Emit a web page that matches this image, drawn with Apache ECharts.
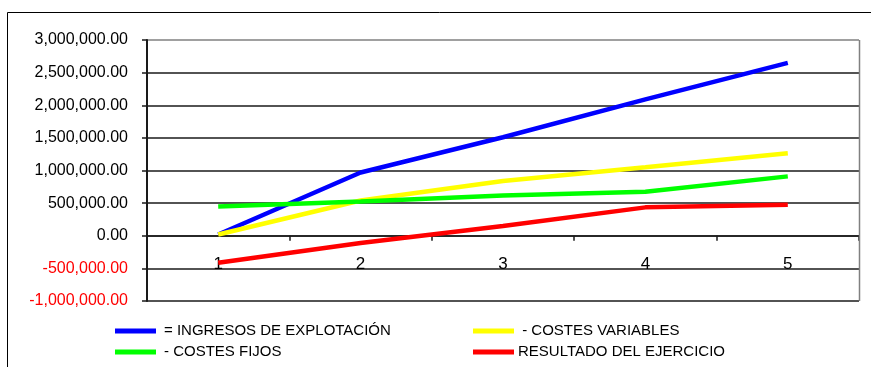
<!DOCTYPE html>
<html>
<head>
<meta charset="utf-8">
<style>
  html, body { margin: 0; padding: 0; background: #fff; }
  #chart { width: 871px; height: 367px; }
</style>
<script src="https://cdn.jsdelivr.net/npm/echarts@6/dist/echarts.min.js"></script>
</head>
<body>
<div id="chart"></div>
<script>
// Años del plan
var categories = ['1', '2', '3', '4', '5'];

// Nombres de las series
var seriesNames = [
  '= INGRESOS DE EXPLOTACIÓN',
  ' - COSTES VARIABLES',
  '- COSTES FIJOS',
  'RESULTADO DEL EJERCICIO'
];

// Valores por año
var ingresos = [20000, 970000, 1510000, 2090000, 2650000];
var costesVariables = [20000, 540000, 840000, 1050000, 1265000];
var costesFijos = [450000, 525000, 615000, 675000, 910000];
var resultado = [-415000, -110000, 150000, 435000, 475000];

// Eje de valores
var yMin = -1000000;
var yMax = 3000000;
var yStep = 500000;

var seriesColors = ['#0000ff', '#ffff00', '#00ff00', '#ff0000'];
var seriesValues = [ingresos, costesVariables, costesFijos, resultado];

var FONT = '"Liberation Sans", Arial, sans-serif';

function fmt(v) {
  return v.toLocaleString('en-US', { minimumFractionDigits: 2, maximumFractionDigits: 2 });
}

// Líneas de división: la superior es parte del borde gris del área de trazado
var nLines = Math.round((yMax - yMin) / yStep) + 1;
var splitColors = [];
for (var i = 0; i < nLines; i++) splitColors.push(i === nLines - 1 ? '#808080' : '#1a1a1a');

// Área de trazado
var gridTop = 40, gridHeight = 261;
// Las etiquetas de categoría se colocan bajo la línea del cero
var zeroY = gridTop + gridHeight * (yMax - 0) / (yMax - yMin);
var catLabelMargin = 20 - (gridTop + gridHeight - zeroY);

var chart = echarts.init(document.getElementById('chart'), null, { renderer: 'canvas' });

var legendText = { fontFamily: FONT, fontSize: 15, color: '#000', lineHeight: 18 };

chart.setOption({
  backgroundColor: '#ffffff',
  animation: false,
  textStyle: { fontFamily: FONT },
  graphic: [{
    type: 'rect',
    silent: true,
    z: 100,
    shape: { x: 7.5, y: 12.5, width: 1000, height: 1000 },
    style: { fill: 'none', stroke: '#000', lineWidth: 1 }
  }, {
    type: 'line',
    silent: true,
    z: 100,
    shape: { x1: 859.5, y1: 40, x2: 859.5, y2: 301 },
    style: { stroke: '#808080', lineWidth: 1.5 }
  }],
  grid: {
    left: 147,
    top: gridTop,
    width: 712,
    height: gridHeight,
    containLabel: false
  },
  legend: [{
    orient: 'vertical',
    left: 110,
    top: 317,
    height: 46,
    itemWidth: 41,
    itemHeight: 5,
    itemGap: 3,
    icon: 'rect',
    data: [seriesNames[0], seriesNames[2]],
    textStyle: Object.assign({ padding: [0, 0, 0, 3] }, legendText)
  }, {
    orient: 'vertical',
    left: 468,
    top: 317,
    height: 46,
    itemWidth: 41,
    itemHeight: 5,
    itemGap: 3,
    icon: 'rect',
    data: [seriesNames[1], seriesNames[3]],
    textStyle: Object.assign({ padding: [0, 0, 0, -1] }, legendText)
  }],
  xAxis: {
    type: 'category',
    data: categories,
    boundaryGap: true,
    axisLine: { onZero: true, lineStyle: { color: '#1a1a1a', width: 1.5 } },
    axisTick: { show: true, inside: false, length: 5, alignWithLabel: false, lineStyle: { color: '#1a1a1a', width: 1.5 } },
    axisLabel: { margin: catLabelMargin, fontFamily: FONT, fontSize: 17, color: '#000' },
    splitLine: { show: false }
  },
  yAxis: {
    type: 'value',
    min: yMin,
    max: yMax,
    interval: yStep,
    axisLine: { show: true, onZero: false, lineStyle: { color: '#1a1a1a', width: 2 } },
    axisTick: { show: true, inside: false, length: 5, lineStyle: { color: '#1a1a1a', width: 1.5 } },
    axisLabel: {
      margin: 19,
      fontFamily: FONT,
      fontSize: 16,
      formatter: function (v) { return fmt(v); },
      color: function (v) { return Number(v) < 0 ? '#ff0000' : '#000000'; }
    },
    splitLine: { show: true, lineStyle: { color: splitColors, width: 1.5 } }
  },
  series: seriesNames.map(function (name, i) {
    return {
      name: name,
      type: 'line',
      data: seriesValues[i],
      showSymbol: false,
      symbol: 'none',
      color: seriesColors[i],
      lineStyle: { color: seriesColors[i], width: 4.5 },
      z: 2 + i
    };
  })
});
</script>
</body>
</html>
